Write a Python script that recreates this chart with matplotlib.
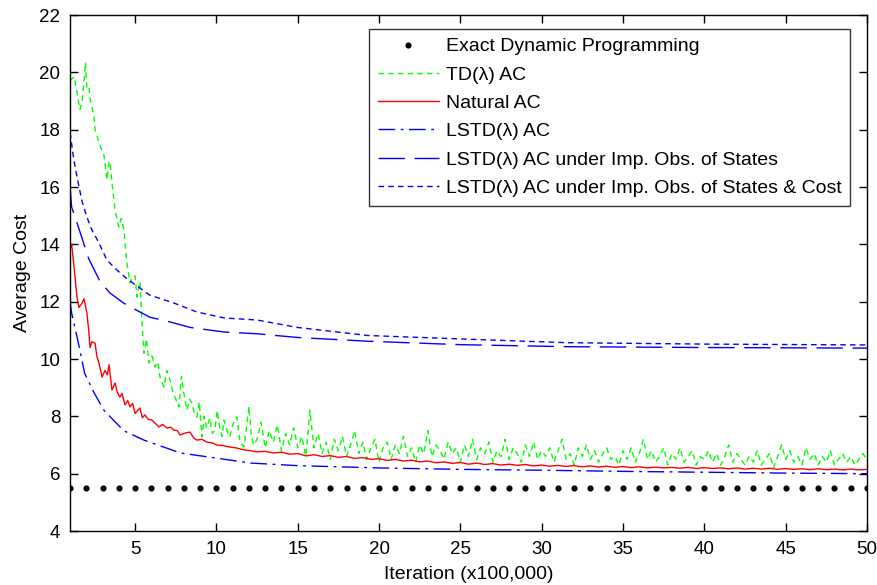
import numpy as np
import matplotlib
matplotlib.use("Agg")
import matplotlib.pyplot as plt

plt.rcParams['font.family'] = ['Liberation Sans', 'DejaVu Sans']

# Exact Dynamic Programming (one dot per 100,000-iteration block)
dp_x = list(range(1, 51))
dp_y = [5.5] * 50

# TD(lambda) AC, early part
td_x_early = [1, 1.25, 1.43, 1.61, 1.74, 1.86, 1.95, 2.04, 2.17, 2.23, 2.48, 2.54,
              2.78, 2.95, 3.09, 3.27, 3.4, 3.46, 3.58, 3.77, 4.0, 4.15, 4.32, 4.38,
              4.5, 4.69, 4.81, 5.0, 5.12, 5.3, 5.43, 5.55, 5.7, 5.86, 6.05, 6.22,
              6.4, 6.53, 6.78, 6.95, 7.15, 7.3, 7.45, 7.7, 7.85, 8.0, 8.19, 8.35,
              8.5, 8.65, 8.8, 8.95, 9.11, 9.25, 9.4, 9.6, 9.75, 9.91, 10.05, 10.2,
              10.35, 10.47, 10.65, 10.83, 11.0, 11.26, 11.45, 11.7, 11.85, 12.0, 12.15, 12.3]
td_y_early = [19.7, 19.85, 19.3, 18.7, 18.95, 19.7, 20.35, 19.4, 19.45, 19.1, 18.45, 18.0,
              17.55, 17.3, 17.1, 16.25, 16.85, 16.9, 16.15, 15.2, 14.6, 14.9, 14.5, 14.05,
              13.35, 12.65, 12.86, 12.9, 12.16, 12.7, 11.25, 10.2, 10.7, 9.86, 10.1, 9.72,
              9.9, 9.37, 9.02, 9.6, 9.27, 8.9, 8.67, 8.33, 9.4, 8.81, 8.22, 8.6,
              8.46, 8.1, 7.98, 8.5, 7.28, 8.0, 7.6, 7.94, 7.4, 7.52, 8.2, 7.6,
              7.3, 7.87, 7.5, 7.28, 7.7, 7.98, 7.1, 6.93, 7.6, 8.35, 7.3, 7.0]
# TD(lambda) AC, noisy tail on a 0.25 grid from 12.5 to 50
td_y_tail = [7.2, 7.8, 6.9, 7.5, 7.1, 7.7, 6.8, 7.4, 7.0, 7.6, 6.9,
             7.3, 6.6, 8.2, 6.9, 7.4, 6.7, 7.1, 6.5, 7.2, 6.8,
             7.3, 6.6, 7.0, 7.5, 6.7, 7.1, 6.5, 6.9, 7.2, 6.4,
             6.9, 7.1, 6.5, 7.0, 6.7, 7.3, 6.6, 6.9, 6.4, 7.0,
             6.7, 7.5, 6.6, 7.0, 6.8, 6.5, 7.1, 6.7, 6.9, 6.4,
             7.0, 6.6, 7.2, 6.5, 6.9, 6.7, 7.1, 6.4, 6.8, 6.6,
             7.2, 6.5, 6.9, 6.7, 6.4, 7.0, 6.6, 7.1, 6.5, 6.8,
             6.6, 6.9, 6.4, 6.8, 7.2, 6.5, 6.7, 6.3, 6.9, 6.6,
             7.0, 6.5, 6.8, 6.4, 6.7, 6.9, 6.5, 6.6, 6.3, 6.8,
             6.5, 6.9, 6.4, 6.7, 7.2, 6.5, 6.8, 6.4, 6.6, 6.9,
             6.3, 6.7, 6.5, 6.9, 6.4, 6.6, 6.8, 6.3, 6.6, 6.5,
             6.8, 6.4, 6.7, 6.3, 6.6, 7.0, 6.4, 6.7, 6.5, 6.3,
             6.6, 6.4, 6.8, 6.3, 6.5, 6.7, 6.2, 6.6, 7.0, 6.5,
             6.8, 6.4, 6.6, 6.3, 6.9, 6.5, 6.7, 6.3, 6.6, 6.4,
             6.8, 6.3, 6.5, 6.7, 6.4, 6.6, 6.3, 6.5, 6.7, 6.5]

# Natural AC
nac_x_early = [1, 1.1, 1.25, 1.43, 1.55, 1.74, 1.86, 2.04, 2.15, 2.23, 2.35, 2.54,
               2.65, 2.78, 2.97, 3.15, 3.3, 3.4, 3.58, 3.77, 3.9, 4.07, 4.2, 4.38,
               4.55, 4.69, 4.85, 5.0, 5.15, 5.3, 5.45, 5.6, 5.8, 6.04, 6.25, 6.47,
               6.7, 6.96, 7.2, 7.39, 7.6, 7.76, 8.1, 8.38, 8.6, 8.8, 9.1, 9.42,
               9.7, 10.03, 10.4, 10.8, 11.2, 11.7, 12.1, 12.5]
nac_y_early = [13.8, 14.0, 13.2, 12.16, 11.8, 11.95, 12.1, 11.6, 11.0, 10.4, 10.6, 10.55,
               10.1, 9.86, 9.37, 9.6, 9.45, 9.8, 8.92, 9.16, 8.85, 8.67, 8.8, 8.4,
               8.55, 8.33, 8.45, 8.1, 8.2, 8.29, 7.95, 8.05, 7.9, 7.87, 7.75, 7.63,
               7.72, 7.59, 7.62, 7.52, 7.5, 7.35, 7.42, 7.45, 7.25, 7.17, 7.2, 7.1,
               7.08, 7.0, 6.98, 6.93, 6.9, 6.83, 6.8, 6.76]
# Natural AC tail on a 0.5 grid from 13 to 50
nac_y_tail = [6.78, 6.72, 6.75, 6.68, 6.7, 6.62, 6.66, 6.6, 6.63, 6.57,
              6.6, 6.53, 6.56, 6.5, 6.52, 6.46, 6.5, 6.44, 6.47, 6.41,
              6.44, 6.38, 6.41, 6.36, 6.39, 6.33, 6.37, 6.32, 6.35, 6.3,
              6.33, 6.29, 6.32, 6.27, 6.3, 6.26, 6.29, 6.25, 6.28, 6.24,
              6.27, 6.23, 6.26, 6.22, 6.25, 6.21, 6.24, 6.2, 6.23, 6.2,
              6.22, 6.19, 6.22, 6.18, 6.21, 6.18, 6.2, 6.17, 6.2, 6.16,
              6.19, 6.16, 6.19, 6.15, 6.18, 6.15, 6.17, 6.14, 6.17, 6.14,
              6.16, 6.13, 6.16, 6.13, 6.15]

# LSTD(lambda) AC
lstd_x = [1, 1.1, 1.5, 1.9, 2.5, 3.1, 4.3, 5.55, 7.8, 9.9, 12.1, 15, 20, 25, 30, 35, 40, 45, 50]
lstd_y = [12, 11.6, 10.6, 9.5, 8.8, 8.2, 7.5, 7.17, 6.72, 6.55, 6.37, 6.28, 6.2, 6.15, 6.12, 6.08, 6.05, 6.02, 6.0]

# LSTD(lambda) AC under imperfect observation of states
imp_x = [1, 1.1, 1.43, 2.15, 2.85, 3.46, 4.3, 5.1, 5.9, 7.1, 8.4, 10.5, 12.5, 15, 19.3, 25, 31.5, 40, 45, 50]
imp_y = [16, 15.3, 14.75, 13.5, 12.7, 12.3, 11.95, 11.7, 11.46, 11.3, 11.1, 10.94, 10.88, 10.75, 10.62, 10.5, 10.43, 10.4, 10.39, 10.38]

# LSTD(lambda) AC under imperfect observation of states & cost
impc_x = [1, 1.25, 1.43, 1.74, 2.04, 2.35, 2.78, 3.27, 3.89, 4.5, 5.9, 7.4, 8.8, 10.5, 12.5, 15, 19.3, 25, 31.5, 40, 50]
impc_y = [17.9, 16.9, 16.35, 15.5, 14.95, 14.5, 14.05, 13.45, 13.1, 12.8, 12.23, 11.95, 11.64, 11.43, 11.36, 11.1, 10.82, 10.7, 10.57, 10.52, 10.49]

td_x = td_x_early + list(np.arange(12.5, 50.01, 0.25))
td_y = td_y_early + td_y_tail
nac_x = nac_x_early + list(np.arange(13, 50.01, 0.5))
nac_y = nac_y_early + nac_y_tail

fig = plt.figure(figsize=(8.78, 5.85), dpi=100)
ax = fig.add_axes([70 / 878, 1 - 531 / 585, 797 / 878, 516 / 585])

ax.plot(dp_x, dp_y, linestyle='none', marker='o', markersize=3.4, color='black',
        label='Exact Dynamic Programming')
ax.plot(td_x, td_y, color=(0, 1, 0), lw=1.0, dashes=(4, 3), label='TD(λ) AC')
ax.plot(nac_x, nac_y, color=(1, 0, 0), lw=1.0, label='Natural AC')
ax.plot(lstd_x, lstd_y, color=(0, 0, 1), lw=1.0, dashes=(12, 4, 2, 4), label='LSTD(λ) AC')
ax.plot(imp_x, imp_y, color=(0, 0, 1), lw=1.0, dashes=(19, 7),
        label='LSTD(λ) AC under Imp. Obs. of States')
ax.plot(impc_x, impc_y, color=(0, 0, 1), lw=1.0, dashes=(4, 3),
        label='LSTD(λ) AC under Imp. Obs. of States & Cost')

ax.set_xlim(1, 50)
ax.set_ylim(4, 22)
ax.set_xticks(range(5, 51, 5))
ax.set_yticks(range(4, 23, 2))
ax.tick_params(direction='in', top=True, right=True, length=6, width=1,
               labelsize=13.5, pad=7)
for spine in ax.spines.values():
    spine.set_linewidth(1)

ax.set_xlabel('Iteration (x100,000)', fontsize=14, labelpad=6)
ax.set_ylabel('Average Cost', fontsize=14, labelpad=6)

leg = ax.legend(loc='upper right', bbox_to_anchor=(780 / 797, 502 / 516),
                borderaxespad=0, fontsize=14, frameon=True, fancybox=False,
                edgecolor='black', handlelength=3.1, handletextpad=0.36,
                labelspacing=0.55, borderpad=0.45)
leg.get_frame().set_linewidth(1)

fig.savefig('out.png', dpi=100)
